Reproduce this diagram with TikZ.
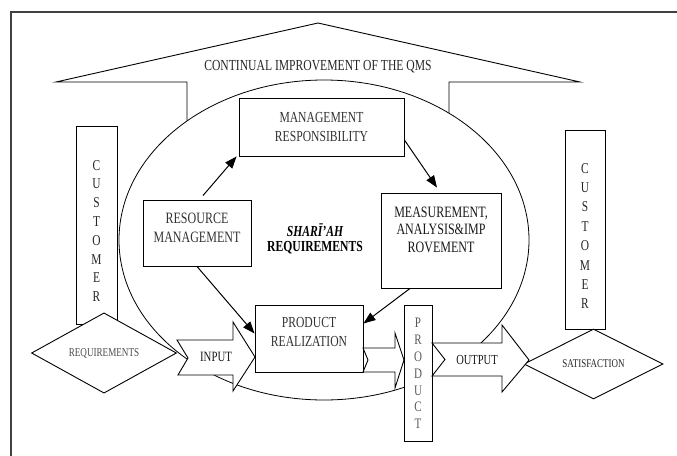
\documentclass[tikz,border=0pt]{standalone}
\usepackage{fontspec}
\setmainfont{Liberation Serif}[FakeStretch=0.76]
\usetikzlibrary{arrows.meta,shapes.geometric}
\begin{document}
\begin{tikzpicture}[x=1pt,y=-1pt,
  box/.style={draw, line width=0.9pt, fill=white, inner sep=0pt},
  txt/.style={align=center, font=\fontsize{15.3}{19}\selectfont, text=black!80, inner sep=0pt},
  stack/.style={align=center, inner sep=0pt},
  conn/.style={line width=1pt, -{Triangle[length=12pt,width=9pt]}},
  barrow/.style={draw, line width=0.9pt, fill=white, line join=miter},
  dia/.style={diamond, draw, line width=0.9pt, fill=white, inner sep=0pt}
]
\useasboundingbox (0,0) rectangle (677,455);
% frame
\draw[line width=1.5pt, black!75] (11,470) -- (11,12) -- (690,12);
% house
\draw[line width=0.9pt, line join=miter] (187,150) -- (187,82) -- (56,82) -- (318,23) -- (580,82) -- (449,82) -- (449,150);
\node[txt, text=black!85] (ci) at (318,67) {CONTINUAL IMPROVEMENT OF THE QMS};
% ellipse
\draw[line width=0.8pt, fill=white] (324,240) ellipse [x radius=205, y radius=160];
% customer boxes
\node[box, minimum width=41pt, minimum height=198pt] (cl) at (96.5,225) {};
\node[stack, font=\fontsize{15}{18.8}\selectfont, text=black!85] at (96.5,231) {C\\U\\S\\T\\O\\M\\E\\R};
\node[box, minimum width=40pt, minimum height=199pt] (cr) at (585,229.5) {};
\node[stack, font=\fontsize{15}{19.4}\selectfont, text=black!85] at (585,236) {C\\U\\S\\T\\O\\M\\E\\R};
% main boxes
\node[box, minimum width=165pt, minimum height=58pt] (mr) at (321.5,127) {};
\node[txt] at (321.5,127) {MANAGEMENT\\RESPONSIBILITY};
\node[box, minimum width=108pt, minimum height=66pt] (rm) at (197,233) {};
\node[txt, font=\fontsize{15.8}{19}\selectfont] at (197,228) {RESOURCE\\MANAGEMENT};
\node[box, minimum width=120pt, minimum height=95pt] (ma) at (441,240.5) {};
\node[txt, font=\fontsize{15.8}{17.5}\selectfont, text=black!90] at (441,229.5) {MEASUREMENT,\\ANALYSIS\&IMP\\ROVEMENT};
\node[box, minimum width=108pt, minimum height=67pt] (pr) at (309,338.5) {};
\node[txt] at (309,332.5) {PRODUCT\\REALIZATION};
% shariah
\node[txt, text=black, font=\fontsize{15.3}{18}\selectfont\bfseries\itshape] (sh) at (315,230) {SHARĪ'AH};
\node[txt, text=black, font=\fontsize{15.3}{18}\selectfont\bfseries] (sr) at (315,248) {REQUIREMENTS};
% diamonds
\node[dia, minimum width=145pt, minimum height=59pt, text=black!70, font=\fontsize{12}{14}\selectfont] (req) at (104,353) {REQUIREMENTS};
\node[dia, minimum width=139pt, minimum height=56pt, text=black!85, font=\fontsize{11.8}{14}\selectfont] (sat) at (593.5,364) {SATISFACTION};
% block arrows
\draw[barrow] (177,340) -- (233,340) -- (233,322) -- (255,357) -- (233,391) -- (233,375) -- (178,375) -- (188,358) -- cycle;
\node[txt, text=black!90, font=\fontsize{14.2}{16}\selectfont] (in) at (216,357) {INPUT};
\draw[barrow] (363,348) -- (395,348) -- (395,333) -- (404,360) -- (395,388) -- (395,372) -- (363,372) -- (368,360) -- cycle;
% product box
\node[box, minimum width=28pt, minimum height=136pt] (pd) at (418,373) {};
\node[stack, font=\fontsize{14.5}{16.8}\selectfont, text=black!65] at (418,373.5) {P\\R\\O\\D\\U\\C\\T};
\draw[barrow] (432,343) -- (502,343) -- (502,325) -- (529,360) -- (502,392) -- (502,376) -- (432,376) -- (445,359.5) -- cycle;
\node[txt, text=black!90, font=\fontsize{13.8}{16}\selectfont] (out) at (477,360) {OUTPUT};
% connectors
\draw[conn] ([xshift=6pt,yshift=4pt]rm.north) -- ([xshift=-2pt]mr.south west);
\draw[conn] ([yshift=-13pt]mr.east) -- ([xshift=-4pt,yshift=5pt]ma.north);
\draw[conn] (rm.south) -- ([yshift=5pt]pr.west);
\draw[conn] ([xshift=-31pt]ma.south) -- ([yshift=15pt]pr.east);
\end{tikzpicture}
\end{document}
